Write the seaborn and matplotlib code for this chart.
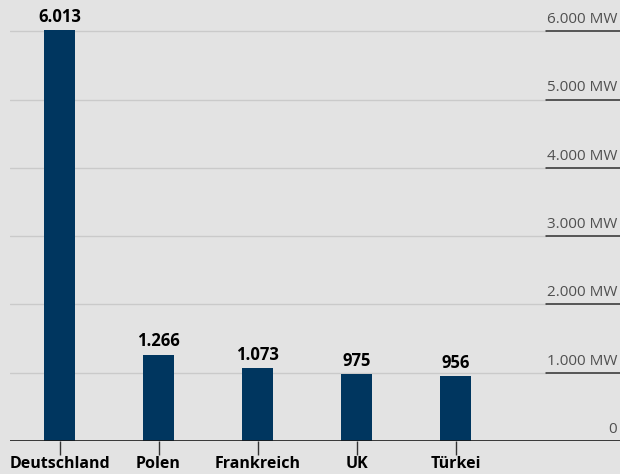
import matplotlib
matplotlib.use("Agg")
import matplotlib.pyplot as plt
import seaborn as sns
import pandas as pd

# data
countries = ["Deutschland", "Polen", "Frankreich", "UK", "Türkei"]
capacity_mw = [6013, 1266, 1073, 975, 956]
value_labels = ["6.013", "1.266", "1.073", "975", "956"]
y_ticks = [0, 1000, 2000, 3000, 4000, 5000, 6000]
y_tick_labels = ["0", "1.000 MW", "2.000 MW", "3.000 MW", "4.000 MW", "5.000 MW", "6.000 MW"]

bg = "#e3e3e3"
bar_color = "#00365f"

sns.set_theme(style="white")
plt.rcParams["font.family"] = ["Open Sans", "DejaVu Sans"]

df = pd.DataFrame({"country": countries, "mw": capacity_mw})

fig = plt.figure(figsize=(6.2, 4.74), dpi=100, facecolor=bg)
ax = fig.add_axes([10 / 620, 33 / 474, 610 / 620, 441 / 474])
ax.set_facecolor(bg)

sns.barplot(data=df, x="country", y="mw", color=bar_color, width=0.31,
            saturation=1, linewidth=0, ax=ax, zorder=3)

ax.set_xlim(-0.5, 5.66)
ax.set_ylim(0, 6457)

# gridlines with dark underline below the right-hand labels
split = (546 - 10) / 610
for v, lab in zip(y_ticks, y_tick_labels):
    if v == 0:
        ax.axhline(0, color="#1a1a1a", lw=1.2, zorder=4)
    else:
        ax.axhline(v, xmin=0, xmax=split, color="#cacaca", lw=1, zorder=1)
        ax.axhline(v, xmin=split, xmax=1, color="#2e2e2e", lw=1.1, zorder=1)
    ax.annotate(lab, xy=(1, v), xycoords=("axes fraction", "data"),
                xytext=(-2, 3), textcoords="offset points",
                ha="right", va="bottom", fontsize=11, color="#505050")

for i, (v, lab) in enumerate(zip(capacity_mw, value_labels)):
    ax.annotate(lab, xy=(i, v), xytext=(0, 3), textcoords="offset points",
                ha="center", va="bottom", fontsize=12, fontweight="bold",
                color="#000000")

ax.set_yticks([])
ax.set_xlabel("")
ax.set_ylabel("")
ax.tick_params(axis="x", length=10, width=1, color="#333333", pad=1,
               labelsize=11.5, bottom=True)
for lab in ax.get_xticklabels():
    lab.set_fontweight("bold")
    lab.set_color("#000000")
for s in ax.spines.values():
    s.set_visible(False)

fig.savefig("out.png", dpi=100, facecolor=bg)
